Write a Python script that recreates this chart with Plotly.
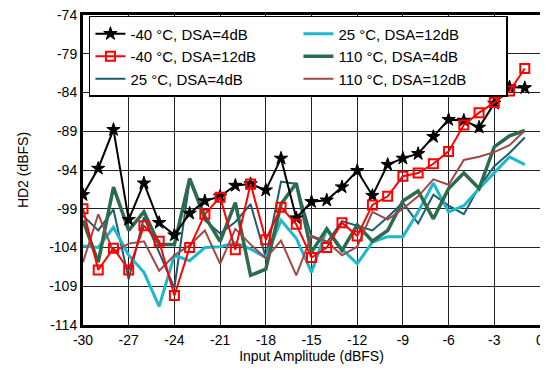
import plotly.graph_objects as go

x_db = list(range(-30, 0))

m40_4 = [-97.2, -93.8, -88.8, -100.4, -95.7, -100.8, -102.4, -99.6, -98.0, -97.4,
         -96.0, -95.8, -96.6, -92.5, -100.2, -98.1, -97.9, -96.2, -94.1, -97.3,
         -93.3, -92.5, -91.9, -89.7, -87.5, -87.6, -88.5, -85.4, -83.3, -83.4]
m40_12 = [-99.0, -106.9, -104.1, -106.9, -101.2, -103.2, -110.2, -104.0, -99.7, -97.5,
          -104.3, -95.8, -103.0, -98.8, -101.0, -105.3, -104.0, -100.8, -102.5, -98.5,
          -97.4, -94.8, -94.4, -93.2, -91.6, -88.2, -86.6, -85.3, -83.8, -80.9]
t25_4 = [-99.9, -101.8, -99.1, -108.1, -100.1, -104.6, -109.2, -95.3, -100.5, -102.2,
         -100.7, -98.4, -105.3, -95.5, -95.8, -102.6, -103.4, -100.6, -101.2, -101.8,
         -100.1, -98.2, -100.9, -97.2, -98.6, -99.7, -96.2, -93.5, -91.8, -89.8]
t25_12 = [-103.8, -104.0, -101.4, -105.0, -107.2, -111.6, -105.0, -105.7, -104.0, -103.9,
          -103.4, -104.2, -105.3, -100.5, -102.8, -107.2, -101.6, -104.2, -106.1, -103.3,
          -102.6, -102.6, -99.4, -95.7, -99.4, -98.6, -96.4, -94.4, -92.3, -93.3]
t110_4 = [-100.5, -105.9, -96.2, -101.8, -99.4, -103.6, -103.6, -95.1, -100.0, -103.2,
          -98.2, -107.6, -106.8, -98.4, -95.7, -104.6, -101.6, -104.4, -101.1, -103.2,
          -101.8, -98.0, -96.7, -100.3, -96.4, -94.4, -96.4, -91.0, -89.6, -88.9]
t110_12 = [-105.9, -99.7, -104.6, -103.5, -103.2, -107.0, -105.0, -103.7, -101.8, -106.1,
           -101.6, -103.6, -105.4, -103.1, -107.6, -102.5, -103.2, -105.0, -103.9, -99.4,
           -100.4, -99.0, -97.4, -95.2, -95.9, -92.7, -92.3, -91.7, -90.8, -88.9]

x_ticks = list(range(-30, 1, 3))
y_ticks = list(range(-114, -73, 5))

names = ["-40 °C, DSA=4dB", "-40 °C, DSA=12dB", "25 °C, DSA=4dB",
         "25 °C, DSA=12dB", "110 °C, DSA=4dB", "110 °C, DSA=12dB"]

fig = go.Figure()
fig.add_trace(go.Scatter(x=x_db, y=t25_4, name=names[2], mode="lines",
                         line=dict(color="#1d5b70", width=2), legendrank=5))
fig.add_trace(go.Scatter(x=x_db, y=t25_12, name=names[3], mode="lines",
                         line=dict(color="#1cb8cc", width=3), legendrank=2))
fig.add_trace(go.Scatter(x=x_db, y=t110_4, name=names[4], mode="lines",
                         line=dict(color="#2d6b4e", width=3.5), legendrank=4))
fig.add_trace(go.Scatter(x=x_db, y=t110_12, name=names[5], mode="lines",
                         line=dict(color="#a04848", width=2), legendrank=6))
fig.add_trace(go.Scatter(x=x_db, y=m40_4, name=names[0], mode="lines+markers",
                         line=dict(color="black", width=2),
                         marker=dict(symbol="star", size=10, color="black",
                                     line=dict(color="black", width=1)),
                         legendrank=1))
fig.add_trace(go.Scatter(x=x_db, y=m40_12, name=names[1], mode="lines+markers",
                         line=dict(color="#ff0000", width=2),
                         marker=dict(symbol="square-open", size=9, color="#ff0000",
                                     line=dict(color="#ff0000", width=2)),
                         legendrank=3))

font_family = "Liberation Sans, Arial, sans-serif"

# the page body has an 8px margin, so the figure is sized/offset to compensate
fig.update_layout(
    width=540, height=362,
    margin=dict(l=75, r=8, t=7, b=45),
    paper_bgcolor="white", plot_bgcolor="white",
    font=dict(family=font_family, size=14, color="black"),
    showlegend=True,
    legend=dict(
        orientation="h", x=0.013, y=0.997, xanchor="left", yanchor="top",
        bgcolor="white", bordercolor="black", borderwidth=1.5,
        font=dict(family=font_family, size=15, color="black"),
        entrywidth=163, entrywidthmode="pixels", tracegroupgap=0,
        itemwidth=30,
    ),
    xaxis=dict(
        range=[-30, 0], tickmode="array", tickvals=x_ticks,
        ticktext=[str(v) for v in x_ticks],
        showgrid=True, gridcolor="#222222", gridwidth=1,
        zeroline=False, showline=True, linecolor="black", linewidth=3, mirror=True,
        ticks="", tickfont=dict(size=14), automargin="bottom",
        ticklabeloverflow="allow",
        title=dict(text="Input Amplitude (dBFS)", font=dict(size=14), standoff=3),
    ),
    yaxis=dict(
        range=[-114, -74], tickmode="array", tickvals=y_ticks,
        ticktext=[str(v) for v in y_ticks],
        showgrid=True, gridcolor="#222222", gridwidth=1,
        zeroline=False, showline=True, linecolor="black", linewidth=3, mirror=True,
        ticks="", tickfont=dict(size=14), automargin="left",
        ticklabeloverflow="allow",
        title=dict(text="HD2 (dBFS)", font=dict(size=14), standoff=18),
    ),
)

fig.write_html("out.html")
